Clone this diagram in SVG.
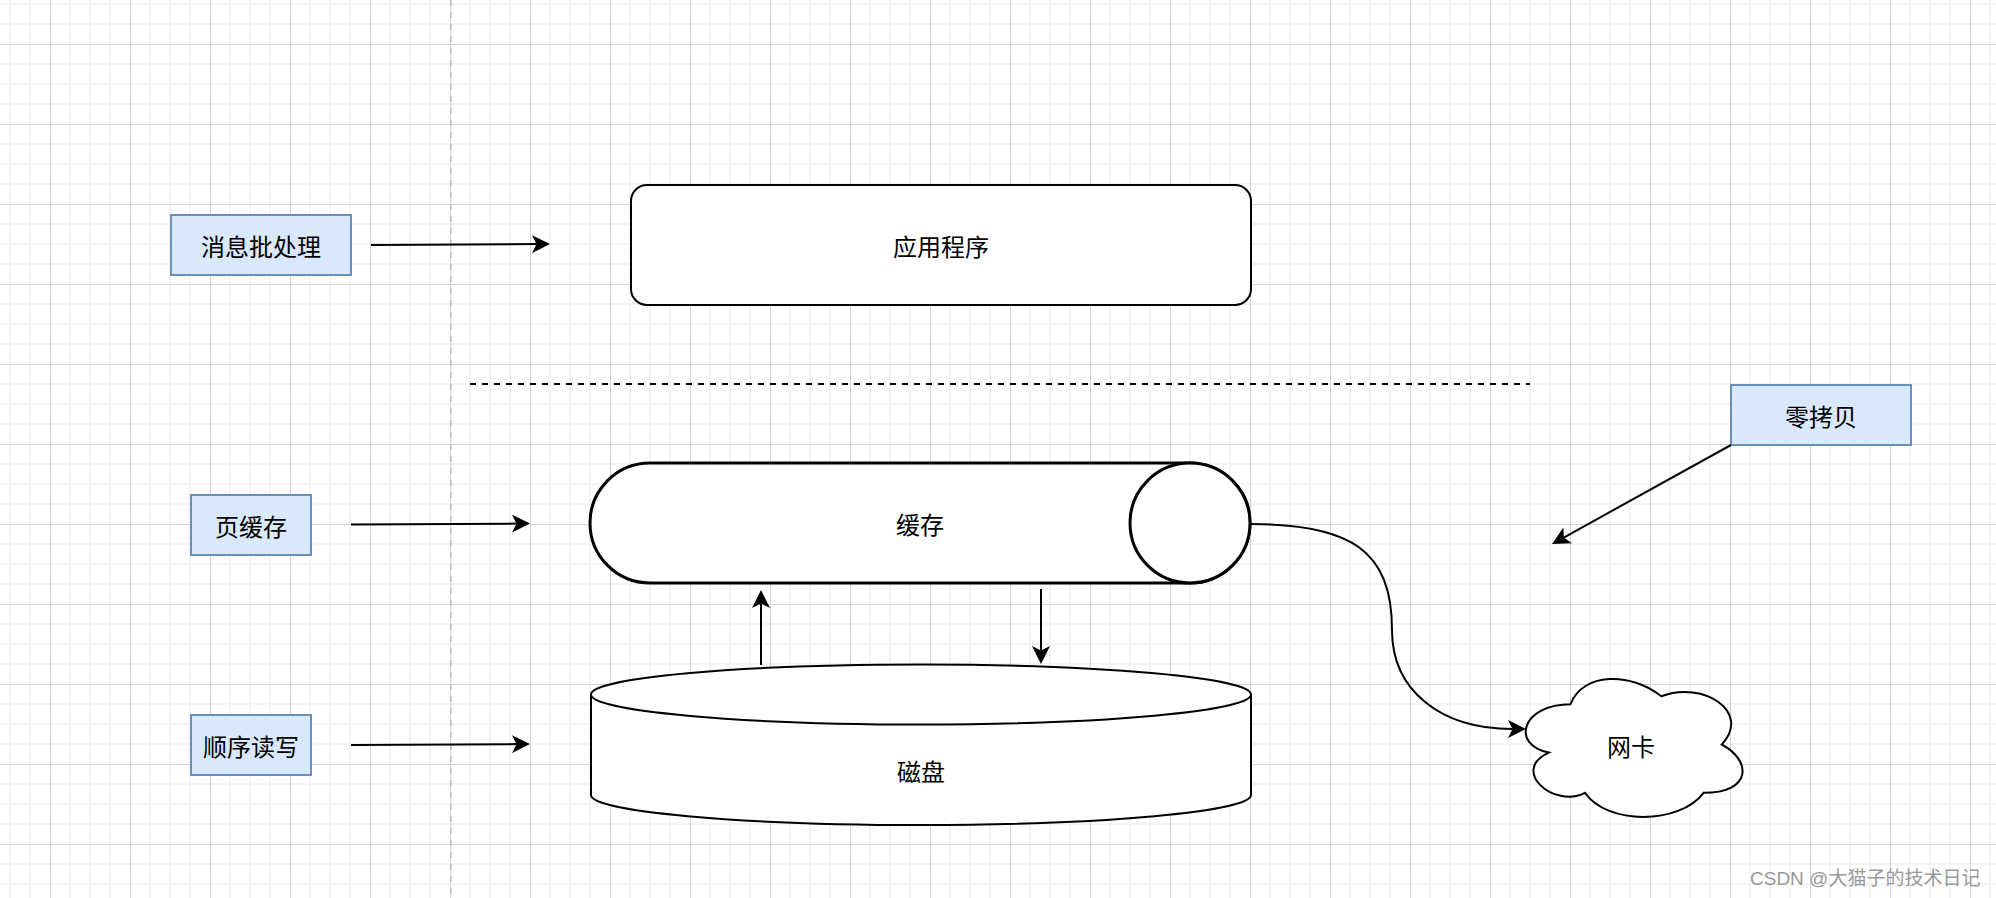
<svg xmlns="http://www.w3.org/2000/svg" width="1996" height="898" viewBox="0 0 1996 898">
  <defs>
    <pattern id="grid" x="50" y="44" width="80" height="80" patternUnits="userSpaceOnUse">
      <rect x="19" y="0" width="2" height="80" fill="#f4f4f4"/>
      <rect x="39" y="0" width="2" height="80" fill="#f4f4f4"/>
      <rect x="59" y="0" width="2" height="80" fill="#f4f4f4"/>
      <rect x="0" y="19" width="80" height="2" fill="#f4f4f4"/>
      <rect x="0" y="39" width="80" height="2" fill="#f4f4f4"/>
      <rect x="0" y="59" width="80" height="2" fill="#f4f4f4"/>
      <rect x="0" y="0" width="1" height="80" fill="#d4d4d4"/>
      <rect x="0" y="0" width="80" height="1" fill="#d4d4d4"/>
    </pattern>
    <marker id="arrow" viewBox="0 -9 18 18" refX="4.5" refY="0" markerWidth="18" markerHeight="18" markerUnits="userSpaceOnUse" orient="auto">
      <path d="M0,-9 L18,0 L0,9 L4.5,0 Z" fill="#000"/>
    </marker>
  </defs>
  <style>
    .lbl { font-family: "Noto Sans CJK SC", "Noto Sans", sans-serif; font-size: 24px; fill: #000; text-anchor: middle; dominant-baseline: central; }
    .tag { fill: #dae8fc; stroke: #6c8ebf; stroke-width: 2; }
    .shape { fill: #fff; stroke: #000; stroke-width: 2; }
    .edge { fill: none; stroke: #000; stroke-width: 2; marker-end: url(#arrow); }
  </style>

  <rect x="0" y="0" width="1996" height="898" fill="#fff"/>
  <rect x="0" y="0" width="1996" height="898" fill="url(#grid)"/>

  <g id="separators">
    <line x1="451" y1="0" x2="451" y2="898" stroke="#bdbdbd" stroke-width="1.5" stroke-dasharray="6 6"/>
    <line x1="470" y1="384" x2="1530" y2="384" stroke="#000" stroke-width="2" stroke-dasharray="6 6"/>
  </g>

  <g id="node-batch">
    <rect class="tag" x="171" y="215" width="180" height="60"/>
    <text class="lbl" x="261" y="245">消息批处理</text>
  </g>
  <g id="node-pagecache">
    <rect class="tag" x="191" y="495" width="120" height="60"/>
    <text class="lbl" x="251" y="525">页缓存</text>
  </g>
  <g id="node-seq">
    <rect class="tag" x="191" y="715" width="120" height="60"/>
    <text class="lbl" x="251" y="745">顺序读写</text>
  </g>
  <g id="node-zerocopy">
    <rect class="tag" x="1731" y="385" width="180" height="60"/>
    <text class="lbl" x="1821" y="415">零拷贝</text>
  </g>

  <g id="node-app">
    <rect class="shape" x="631" y="185" width="620" height="120" rx="16" ry="16"/>
    <text class="lbl" x="941" y="245">应用程序</text>
  </g>

  <g id="node-cache">
    <path class="shape" style="stroke-width:3" d="M650,463 L1190,463 A60,60 0 0 1 1190,583 L650,583 A60,60 0 0 1 650,463 Z"/>
    <circle class="shape" style="stroke-width:3" cx="1190" cy="523" r="60"/>
    <text class="lbl" x="920" y="523">缓存</text>
  </g>

  <g id="node-disk">
    <path class="shape" d="M591,694.5 A330,30 0 0 1 1251,694.5 L1251,795 A330,30 0 0 1 591,795 Z"/>
    <path class="shape" style="fill:none" d="M591,694.5 A330,30 0 0 0 1251,694.5"/>
    <text class="lbl" x="921" y="770">磁盘</text>
  </g>

  <g id="node-nic">
    <path class="shape" d="M1570.5,704.25 C1522.1,704.25 1510,744.5 1548.72,752.55 C1510,770.26 1553.56,808.9 1585.02,792.8 C1606.8,825 1679.4,825 1703.6,792.8 C1752,792.8 1752,760.6 1721.75,744.5 C1752,712.3 1703.6,680.1 1661.25,696.2 C1631,672.05 1582.6,672.05 1570.5,704.25 Z"/>
    <text class="lbl" x="1631" y="745">网卡</text>
  </g>

  <g id="connectors">
    <path class="edge" d="M371,245 L536.5,244.1"/>
    <path class="edge" d="M351,524.5 L516.5,523.6"/>
    <path class="edge" d="M351,745 L516.5,744.1"/>
    <path class="edge" d="M761,665 L761,603.5"/>
    <path class="edge" d="M1041,589 L1041,650.5"/>
    <path class="edge" d="M1731,445 L1563.8,537.5"/>
    <path class="edge" d="M1251,524 C1350,524 1392,550 1392,630 C1392,690 1440,729 1512.5,729"/>
  </g>

  <text x="1750" y="885" font-family="'Liberation Sans', 'Noto Sans CJK SC', sans-serif" font-size="19" fill="#999">CSDN @大猫子的技术日记</text>
</svg>
